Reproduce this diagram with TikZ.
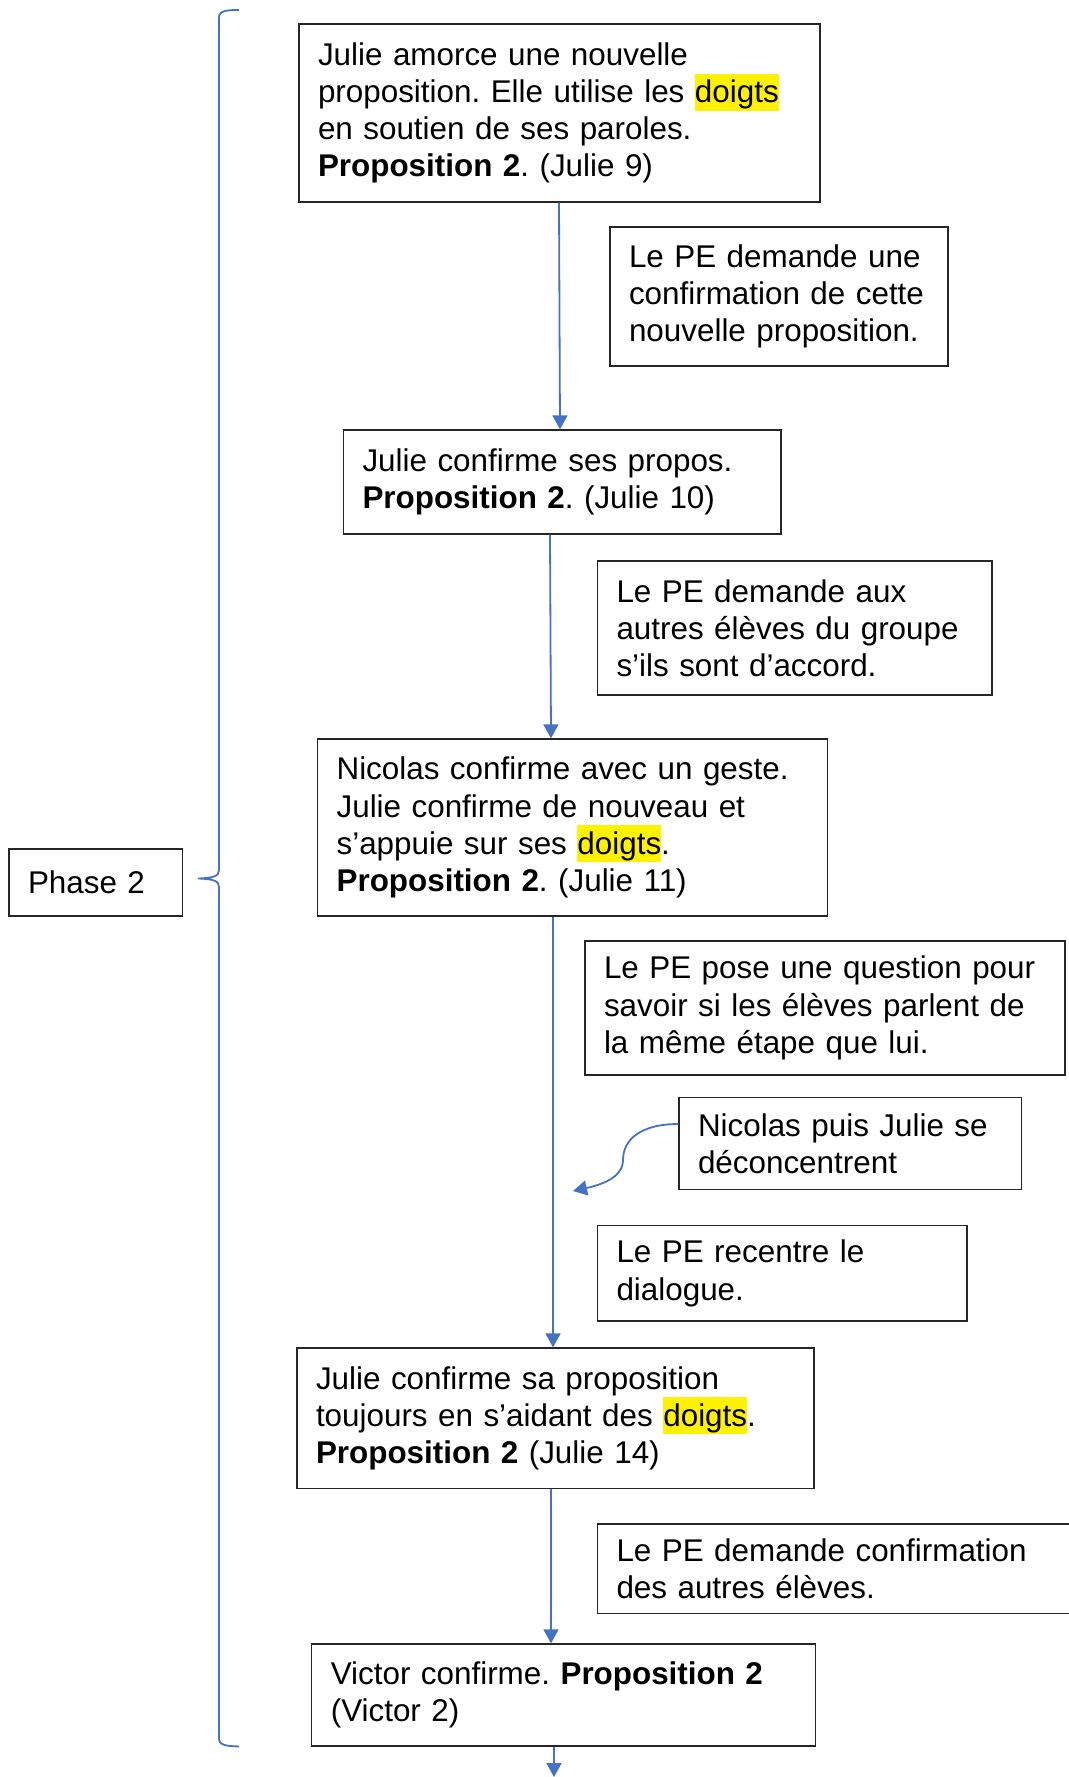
\documentclass[tikz,border=0pt]{standalone}
\usepackage{fontspec}
\setmainfont{Liberation Sans}
\usetikzlibrary{arrows.meta}
\definecolor{officeblue}{HTML}{4472C4}
\frenchspacing
\newcommand\hlt[1]{{\setlength{\fboxsep}{0pt}\colorbox{yellow}{\rule[-8pt]{0pt}{37pt}#1}}}
\begin{document}
\begin{tikzpicture}[x=1pt,y=-1pt,
  txtbox/.style={draw=black!85, line width=1.3pt, rectangle, inner xsep=19pt, inner ysep=0pt,
    align=left, font=\frenchspacing\fontsize{31.4pt}{37.2pt}\selectfont},
  flow/.style={draw=officeblue, line width=1.8pt, -{Triangle[width=15pt,length=14pt]}},
  bracestyle/.style={draw=officeblue, line width=1.8pt}]
\useasboundingbox (0,0) rectangle (1068,1777);

\node[txtbox, minimum width=521pt, minimum height=178pt, text width=483pt] (J9) at (559.5,113)
  {Julie amorce une nouvelle\\proposition. Elle utilise les \hlt{doigts}\\en soutien de ses paroles.\\\textbf{Proposition 2}. (Julie 9)};
\node[txtbox, minimum width=338pt, minimum height=139pt, text width=300pt] (PE1) at (779,296.5)
  {Le PE demande une\\confirmation de cette\\nouvelle proposition.};
\node[txtbox, minimum width=437.5pt, minimum height=104pt, text width=399.5pt] (J10) at (562.25,482)
  {Julie confirme ses propos.\\\textbf{Proposition 2}. (Julie 10)};
\node[txtbox, minimum width=394.5pt, minimum height=134pt, text width=356.5pt] (PE2) at (794.75,628)
  {Le PE demande aux\\autres élèves du groupe\\s’ils sont d’accord.};
\node[txtbox, minimum width=510pt, minimum height=177pt, text width=472pt] (N11) at (572.6,827.5)
  {Nicolas confirme avec un geste.\\Julie confirme de nouveau et\\s’appuie sur ses \hlt{doigts}.\\\textbf{Proposition 2}. (Julie 11)};
\node[txtbox, minimum width=480pt, minimum height=134pt, text width=442pt] (PE3) at (825,1008)
  {Le PE pose une question pour\\savoir si les élèves parlent de\\la même étape que lui.};
\node[txtbox, minimum width=342.6pt, minimum height=91.8pt, text width=304.6pt] (Nic) at (850.3,1143.4)
  {Nicolas puis Julie se\\déconcentrent};
\node[txtbox, minimum width=369.5pt, minimum height=95.4pt, text width=331.5pt] (PE4) at (782.25,1273.3)
  {Le PE recentre le\\dialogue.};
\node[txtbox, minimum width=517pt, minimum height=140.7pt, text width=479pt] (J14) at (555.5,1418.35)
  {Julie confirme sa proposition\\toujours en s’aidant des \hlt{doigts}.\\\textbf{Proposition 2} (Julie 14)};
\node[txtbox, minimum width=492.5pt, minimum height=89.4pt, text width=454.5pt] (PE5) at (843.75,1568.7)
  {Le PE demande confirmation\\des autres élèves.};
\node[txtbox, minimum width=503.4pt, minimum height=102pt, text width=465.4pt] (V2) at (563.5,1695)
  {Victor confirme. \textbf{Proposition 2}\\(Victor 2)};
\node[txtbox, minimum width=173.5pt, minimum height=67pt, text width=135.5pt] (PH) at (95.75,882.5)
  {Phase 2};

% vertical flow arrows
\draw[flow] (J9.south -| 559,0) -- (J10.north -| 560,0);
\draw[flow] (J10.south -| 550,0) -- (N11.north -| 551,0);
\draw[flow] (N11.south -| 553,0) -- (J14.north -| 553,0);
\draw[flow] (J14.south -| 551,0) -- (V2.north -| 551,0);
\coordinate (bottomend) at (554,1777);
\draw[flow] (V2.south -| 554,0) -- (bottomend);

% curved arrow from "Nicolas puis Julie se deconcentrent"
\coordinate (curvetip) at (573,1191);
\draw[flow] (Nic.west |- 0,1124) .. controls (640,1124) and (623,1140) .. (623,1160)
  .. controls (623,1178) and (600,1185) .. (curvetip);

% brace
\draw[bracestyle] (239,10) .. controls (225,10) and (219,11) .. (219,18) -- (219,870)
  .. controls (219,876) and (214,878) .. (198,878.5)
  .. controls (214,879) and (219,881) .. (219,887) -- (219,1738)
  .. controls (219,1745) and (225,1746) .. (239,1746.5);
\end{tikzpicture}
\end{document}
